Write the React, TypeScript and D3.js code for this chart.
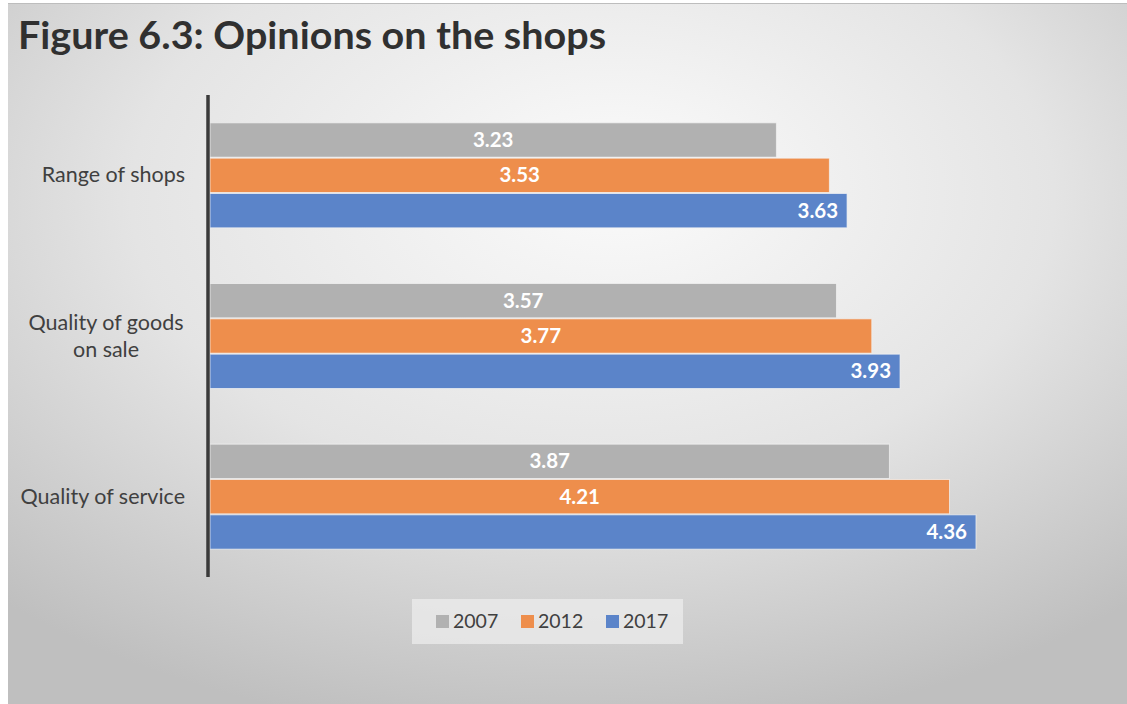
import React from "react";
import * as d3 from "d3";

const categories = ["Range of shops", "Quality of goods on sale", "Quality of service"];
const categoryLines = [["Range of shops"], ["Quality of goods", "on sale"], ["Quality of service"]];
const seriesNames = ["2007", "2012", "2017"];
const values2007 = [3.23, 3.57, 3.87];
const values2012 = [3.53, 3.77, 4.21];
const values2017 = [3.63, 3.93, 4.36];
const seriesValues = [values2007, values2012, values2017];
const colors = ["#b1b1b1", "#ee8e4c", "#5b84c9"];

const W = 1127;
const H = 704;
const FONT = "Lato, 'Open Sans', 'Liberation Sans', sans-serif";

export default function App() {
  const x = d3.scaleLinear().domain([0, 5]).range([206, 1089]);
  const y0 = d3.scaleBand<string>().domain(categories).range([95, 577]).paddingInner(0).paddingOuter(0);
  const groupH = 106;
  const barH = groupH / 3;

  return (
    <svg width={W} height={H} style={{ position: "absolute", left: 0, top: 0 }}>
      <defs>
        <radialGradient id="bg" cx="50%" cy="30%" r="75%" fx="55%" fy="25%">
          <stop offset="0%" stopColor="#fbfbfb" />
          <stop offset="55%" stopColor="#e4e4e4" />
          <stop offset="100%" stopColor="#bfbfbf" />
        </radialGradient>
      </defs>
      <rect x={0} y={0} width={W} height={H} fill="#ffffff" />
      <rect x={8} y={3} width={W - 8} height={H - 3} fill="url(#bg)" />
      <line x1={8} x2={W} y1={3.5} y2={3.5} stroke="#bdbdbd" strokeWidth={1} />
      <text x={18} y={49} fontFamily={FONT} fontWeight={700} fontSize={38} fill="#303030" textLength={588} lengthAdjust="spacingAndGlyphs">
        Figure 6.3: Opinions on the shops
      </text>

      {categories.map((c, ci) => {
        const center = (y0(c) as number) + y0.bandwidth() / 2;
        const top = center - groupH / 2;
        const lines = categoryLines[ci];
        return (
          <g key={c}>
            {lines.length === 1 ? (
              <text x={185} y={center + 7} textAnchor="end" fontFamily={FONT} fontSize={21.5} fill="#404040">
                {lines[0]}
              </text>
            ) : (
              lines.map((l, li) => (
                <text key={l} x={106} y={center - 6 + li * 27} textAnchor="middle" fontFamily={FONT} fontSize={21.5} fill="#404040">
                  {l}
                </text>
              ))
            )}
            {seriesValues.map((vals, si) => {
              const v = vals[ci];
              const by = top + si * barH;
              const x1 = x(v);
              const x0 = 210;
              const inside = si === 2;
              return (
                <g key={si}>
                  <rect x={x0} y={by + 0.5} width={x1 - x0} height={barH - 1} fill={colors[si]} stroke="#f4f4f4" strokeOpacity={0.7} strokeWidth={1} />
                  <text
                    x={inside ? x1 - 9 : (x0 + x1) / 2}
                    y={by + barH / 2 + 7}
                    textAnchor={inside ? "end" : "middle"}
                    fontFamily={FONT}
                    fontWeight={700}
                    fontSize={20.5}
                    fill="#ffffff"
                  >
                    {v.toFixed(2)}
                  </text>
                </g>
              );
            })}
          </g>
        );
      })}

      <line x1={208} x2={208} y1={95} y2={577} stroke="#3a3a3a" strokeWidth={3.5} />

      <rect x={412} y={599} width={271} height={45} fill="#ececec" fillOpacity={0.75} />
      {seriesNames.map((s, i) => {
        const lx = [436, 521, 606][i];
        return (
          <g key={s}>
            <rect x={lx} y={615} width={13} height={13} fill={colors[i]} />
            <text x={lx + 17} y={628} fontFamily={FONT} fontSize={19.5} fill="#404040">
              {s}
            </text>
          </g>
        );
      })}
    </svg>
  );
}
